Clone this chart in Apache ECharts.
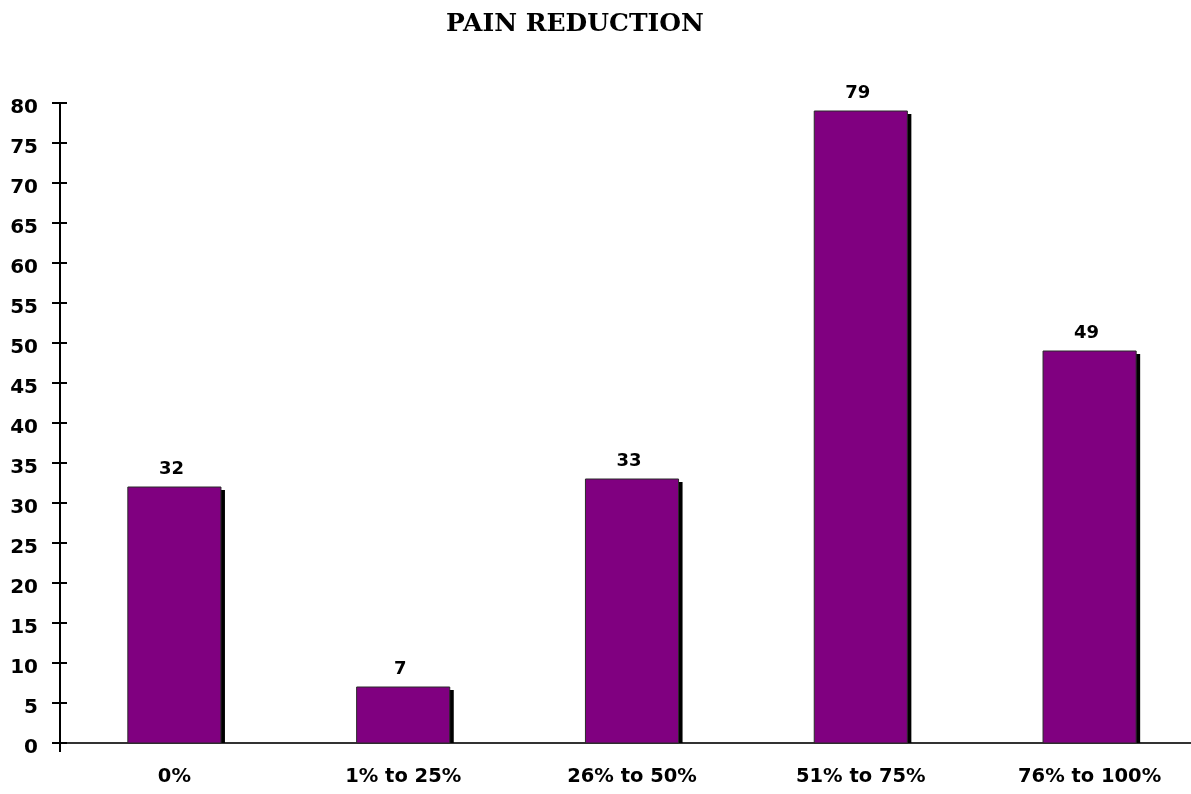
<!DOCTYPE html>
<html>
<head>
<meta charset="utf-8">
<script src="https://cdn.jsdelivr.net/npm/echarts@6/dist/echarts.min.js"></script>
<style>
  html, body { margin: 0; padding: 0; background: #fff; overflow: hidden; }
  /* the plot runs slightly past the right edge of the page */
  #chart { width: 1210px; height: 794px; }
</style>
</head>
<body>
<div id="chart"></div>
<script>
// Pain reduction survey: number of respondents per reduction band
const categories = ['0%', '1% to 25%', '26% to 50%', '51% to 75%', '76% to 100%'];
const counts = [32, 7, 33, 79, 49];
const yTicks = { min: 0, max: 80, interval: 5 };

const chart = echarts.init(document.getElementById('chart'));

const labelFont = { fontFamily: '"DejaVu Sans", "Liberation Sans", Arial, sans-serif', fontWeight: 'bold', color: '#000' };

// Each bar is a purple block with a hard black drop shadow and its value on top
function renderBar(params, api) {
  const idx = api.value(0);
  const val = api.value(1);
  const base = api.coord([idx, 0]);
  const top = api.coord([idx, val]);
  const w = api.size([1, 0])[0] * 0.407;
  const h = base[1] - top[1];
  return {
    type: 'group',
    children: [
      {
        type: 'rect',
        shape: { x: base[0] - w / 2 + 4, y: top[1] + 3, width: w, height: h - 3 },
        style: { fill: '#000' }
      },
      {
        type: 'rect',
        shape: { x: base[0] - w / 2, y: top[1], width: w, height: h },
        style: { fill: '#800080', stroke: '#2a2a2a', lineWidth: 1 }
      },
      {
        type: 'text',
        style: {
          text: String(val),
          x: base[0] - 3,
          y: top[1] - 9,
          align: 'center',
          verticalAlign: 'bottom',
          fontFamily: labelFont.fontFamily,
          fontWeight: 'bold',
          fontSize: 18,
          fill: '#000'
        }
      }
    ]
  };
}

const yBase = {
  type: 'value',
  min: yTicks.min,
  max: yTicks.max,
  interval: yTicks.interval,
  position: 'left',
  splitLine: { show: false },
  axisLine: { show: true, lineStyle: { color: '#000', width: 2 } }
};

chart.setOption({
  animation: false,
  backgroundColor: '#fff',
  title: {
    text: 'PAIN REDUCTION',
    left: 570,
    top: 7,
    textAlign: 'center',
    textStyle: {
      fontFamily: '"DejaVu Serif", "Liberation Serif", serif',
      fontWeight: 'bold',
      fontSize: 25,
      color: '#000'
    }
  },
  grid: { left: 60, top: 103, width: 1144, bottom: 51, containLabel: false },
  xAxis: {
    type: 'category',
    data: categories,
    boundaryGap: true,
    axisLine: { show: true, lineStyle: { color: '#333', width: 2 } },
    axisTick: {
      show: true,
      interval: function (i) { return i === 0; },
      length: 9,
      lineStyle: { color: '#000', width: 2 }
    },
    axisLabel: Object.assign({ fontSize: 19.5, margin: 24, interval: 0 }, labelFont),
    splitLine: { show: false }
  },
  yAxis: [
    Object.assign({}, yBase, {
      axisTick: { show: true, inside: false, length: 8, lineStyle: { color: '#000', width: 2 } },
      // labels sit a little below their tick marks
      axisLabel: Object.assign({ fontSize: 20, margin: 22, verticalAlign: 'top', lineHeight: 10 }, labelFont)
    }),
    Object.assign({}, yBase, {
      axisTick: { show: true, inside: true, length: 7, lineStyle: { color: '#000', width: 2 } },
      axisLabel: { show: false }
    })
  ],
  series: [
    {
      type: 'custom',
      renderItem: renderBar,
      encode: { x: 0, y: 1 },
      data: counts.map((v, i) => [i, v]),
      z: 3
    }
  ]
});
</script>
</body>
</html>
